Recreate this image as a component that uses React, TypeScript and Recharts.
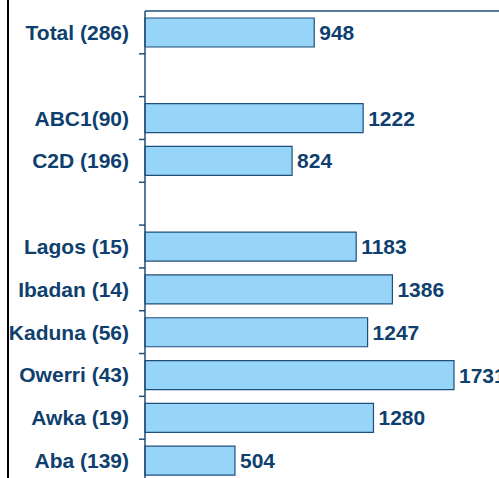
import { BarChart, Bar, XAxis, YAxis, LabelList } from "recharts";

const categories = [
  "Total (286)",
  " ",
  "ABC1(90)",
  "C2D (196)",
  "  ",
  "Lagos (15)",
  "Ibadan (14)",
  "Kaduna (56)",
  "Owerri (43)",
  "Awka (19)",
  "Aba (139)",
];
const values = [948, null, 1222, 824, null, 1183, 1386, 1247, 1731, 1280, 504];

const data = categories.map((name, i) => ({ name, value: values[i] }));

const NAVY = "#0F3F6E";
const LINE = "#1F4E7A";
const FONT = "'Liberation Sans', Arial, sans-serif";
const TOP = 11;
const PLOT_H = 471;
const BAND = PLOT_H / categories.length;

const CategoryTick = ({ x, y, payload, index }: any) => {
  return (
    <g>
      <text
        x={x - 16}
        y={y}
        dy="0.355em"
        textAnchor="end"
        fill={NAVY}
        fontSize={21}
        fontWeight="bold"
        fontFamily={FONT}
      >
        {payload.value}
      </text>
      {index === 0 && (
        <line x1={x} x2={505} y1={y - BAND / 2} y2={y - BAND / 2} stroke={LINE} strokeWidth={1.5} />
      )}
      <line x1={x - 6} x2={x} y1={y + BAND / 2} y2={y + BAND / 2} stroke={LINE} strokeWidth={1.5} />
    </g>
  );
};

export default function App() {
  return (
    <div
      style={{
        position: "absolute",
        top: 0,
        left: 0,
        width: 499,
        height: 478,
        overflow: "hidden",
        background: "#fff",
      }}
    >
      <div
        style={{
          position: "absolute",
          left: 7,
          top: 0,
          width: 2,
          height: 478,
          background: "#000",
        }}
      />
      <BarChart
        layout="vertical"
        width={505}
        height={TOP + PLOT_H}
        data={data}
        margin={{ top: TOP, right: 3, bottom: 0, left: 0 }}
        barSize={29}
      >
        <XAxis type="number" domain={[0, 2000]} hide />
        <YAxis
          type="category"
          dataKey="name"
          width={145}
          tickLine={false}
          tickSize={0}
          tickMargin={0}
          axisLine={{ stroke: LINE, strokeWidth: 1.5 }}
          tick={<CategoryTick />}
          interval={0}
        />
        <Bar
          dataKey="value"
          fill="#97D5F8"
          stroke={LINE}
          strokeWidth={1.2}
          isAnimationActive={false}
        >
          <LabelList
            dataKey="value"
            position="right"
            offset={5}
            fill={NAVY}
            fontSize={21}
            fontWeight="bold"
            fontFamily={FONT}
          />
        </Bar>
      </BarChart>
    </div>
  );
}
